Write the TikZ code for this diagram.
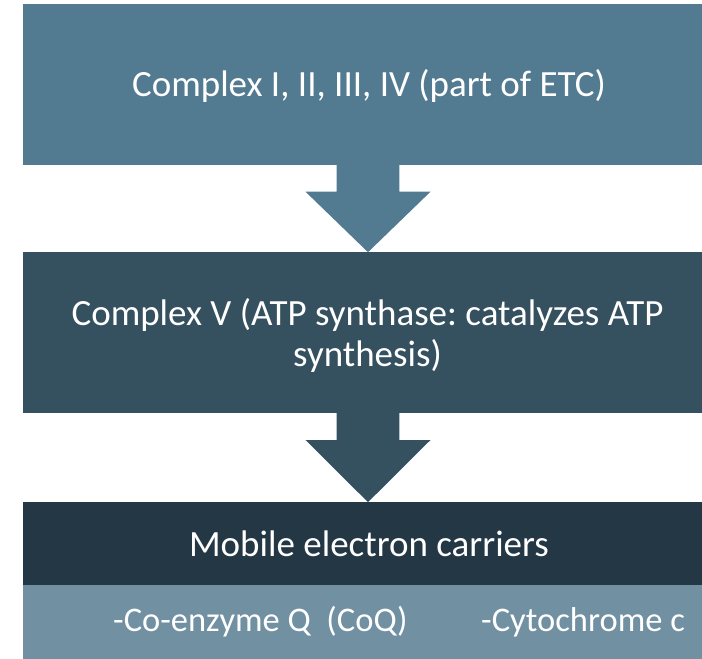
\documentclass[tikz,border=0pt]{standalone}
\usepackage{fontspec}
\setmainfont{Carlito}
\usetikzlibrary{calc}
\definecolor{boxA}{HTML}{527A91}
\definecolor{boxB}{HTML}{35505F}
\definecolor{boxC}{HTML}{243745}
\definecolor{boxD}{HTML}{7191A2}
\frenchspacing
\begin{document}
\begin{tikzpicture}[x=1pt,y=-1pt,
  box/.style={rectangle, inner sep=0pt, outer sep=0pt, minimum width=679pt, draw=none},
  lbl/.style={text=white, font=\fontsize{37}{41}\selectfont, inner sep=0pt, anchor=base},
  small/.style={font=\fontsize{34.5}{40}\selectfont}]
\useasboundingbox (0,0) rectangle (702,659);
% boxes
\node[box, fill=boxA, minimum height=161pt] (b1) at (362.5,84.5) {};
\node[box, fill=boxB, minimum height=161.6pt] (b2) at (362.5,332.5) {};
\node[box, fill=boxC, minimum height=83.3pt] (b3) at (362.5,543.35) {};
\node[box, fill=boxD, minimum height=74pt] (b4) at (362.5,622) {};
% arrows
\coordinate (a1s) at ($(b1.south)+(5.5,-0.5)$);
\coordinate (a1t) at ($(b2.north)+(5.5,0.5)$);
\fill[boxA] ($(a1s)+(-31.3,0)$) -- ($(a1s)+(-31.3,27.2)$) -- ($(a1s)+(-62.5,27.2)$) -- (a1t)
  -- ($(a1s)+(62.5,27.2)$) -- ($(a1s)+(31.3,27.2)$) -- ($(a1s)+(31.3,0)$) -- cycle;
\coordinate (a2s) at ($(b2.south)+(5.5,-0.5)$);
\coordinate (a2t) at ($(b3.north)+(5.5,0.5)$);
\fill[boxB] ($(a2s)+(-31.3,0)$) -- ($(a2s)+(-31.3,27.2)$) -- ($(a2s)+(-62.5,27.2)$) -- (a2t)
  -- ($(a2s)+(62.5,27.2)$) -- ($(a2s)+(31.3,27.2)$) -- ($(a2s)+(31.3,0)$) -- cycle;
% texts
\node[lbl] (t1) at (369,96.7) {Complex I, II, III, IV (part of ETC)};
\node[lbl, align=center] (t2) at (367.5,366) {Complex V (ATP synthase: catalyzes ATP\\synthesis)};
\node[lbl] (t3) at (369,556) {Mobile electron carriers};
\node[lbl, small, anchor=base west] (t4) at (113,631.7) {-Co-enzyme Q\ \ (CoQ)};
\node[lbl, small, anchor=base west] (t5) at (481,631.7) {-Cytochrome c};
\end{tikzpicture}
\end{document}
